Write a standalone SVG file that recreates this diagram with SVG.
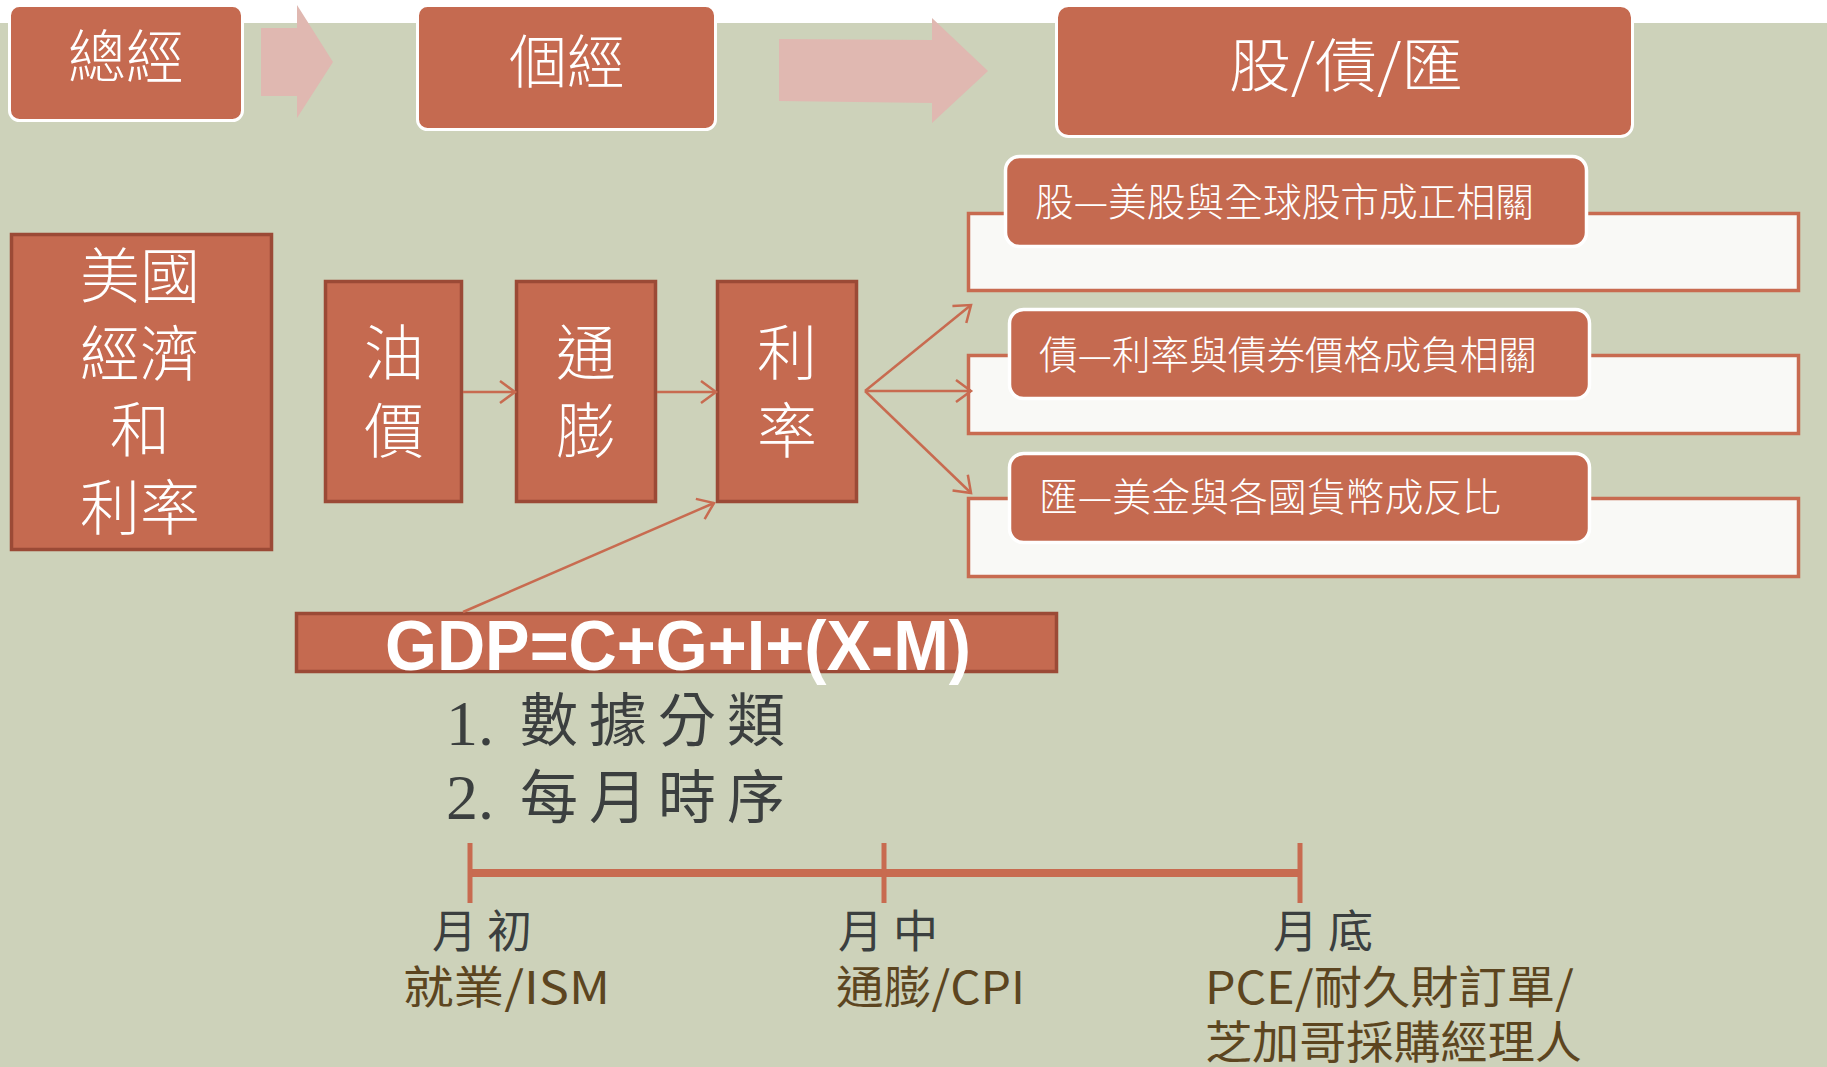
<svg xmlns="http://www.w3.org/2000/svg" width="1827" height="1067" viewBox="0 0 1827 1067">
<defs>
<style>
.bg{fill:#CDD2BA}
.top{fill:#C56A50;stroke:#FFFFFF;stroke-width:3}
.box{fill:#C56A50;stroke:#9B4A36;stroke-width:3.5}
.panel{fill:#F9F9F6;stroke:#C86B50;stroke-width:3.5}
.pill{fill:#C56A50;stroke:#FFFFFF;stroke-width:3.5}
.chev{fill:#E0B8B1}
.wt{fill:#FFFFFF;font-family:"Noto Sans CJK TC","Noto Sans CJK SC",sans-serif;font-weight:300}
.kai{fill:#3B3F3F;font-family:"Noto Sans CJK TC","Noto Sans CJK SC",serif}
.num{fill:#3B3F3F;font-family:"Liberation Serif",serif}
.br{fill:#5C4520;font-family:"Noto Sans CJK TC","Noto Sans CJK SC",sans-serif;font-size:45px}
.conn{stroke:#C86B50;stroke-width:2.5;fill:none;marker-end:url(#arr)}
.tl{stroke:#C86B50;fill:none}
</style>
<marker id="arr" viewBox="-17 -13 20 26" refX="0" refY="0" markerWidth="20" markerHeight="26" markerUnits="userSpaceOnUse" orient="auto">
<path d="M-15,-11 L0,0 L-15,11" fill="none" stroke="#C86B50" stroke-width="2.5"/>
</marker>
</defs>
<rect x="0" y="0" width="1827" height="1067" fill="#FFFFFF"/>
<rect class="bg" x="0" y="23" width="1827" height="1044"/>

<g id="chevrons">
<polygon class="chev" points="261,28 297,28 297,5 333,62 297,118 297,96 261,96"/>
<polygon class="chev" points="779,39 932,40 932,18 988,71 932,123 932,103 779,101"/>
</g>

<g id="node-macro">
<rect class="top" x="9.5" y="5.5" width="233" height="115" rx="10"/>
<text class="wt" x="126" y="78" font-size="58" text-anchor="middle">總經</text>
</g>
<g id="node-micro">
<rect class="top" x="417.5" y="5.5" width="298" height="124" rx="10"/>
<text class="wt" x="567" y="83" font-size="58" text-anchor="middle">個經</text>
</g>
<g id="node-assets">
<rect class="top" x="1056.5" y="5.5" width="576" height="131" rx="12"/>
<text class="wt" x="1229" y="87" font-size="58" textLength="234" lengthAdjust="spacingAndGlyphs">股/債/匯</text>
</g>

<g id="node-us">
<rect class="box" x="11.5" y="234.5" width="260" height="315"/>
<text class="wt" font-size="60" text-anchor="middle"><tspan x="140" y="298">美國</tspan><tspan x="140" y="376">經濟</tspan><tspan x="140" y="452">和</tspan><tspan x="140" y="530">利率</tspan></text>
</g>
<g id="node-oil">
<rect class="box" x="325.5" y="281.5" width="136" height="220"/>
<text class="wt" font-size="60" text-anchor="middle"><tspan x="394" y="375">油</tspan><tspan x="394" y="453">價</tspan></text>
</g>
<g id="node-inflation">
<rect class="box" x="516.5" y="281.5" width="139" height="220"/>
<text class="wt" font-size="60" text-anchor="middle"><tspan x="586" y="375">通</tspan><tspan x="586" y="453">膨</tspan></text>
</g>
<g id="node-rate">
<rect class="box" x="717.5" y="281.5" width="139" height="220"/>
<text class="wt" font-size="60" text-anchor="middle"><tspan x="787" y="375">利</tspan><tspan x="787" y="453">率</tspan></text>
</g>

<g id="node-stock">
<rect class="panel" x="968.5" y="213.5" width="830" height="77"/>
<rect class="pill" x="1005.5" y="156.5" width="581" height="90" rx="14"/>
<text class="wt" x="1035" y="216" font-size="38.5" textLength="499" lengthAdjust="spacingAndGlyphs">股—美股與全球股市成正相關</text>
</g>
<g id="node-bond">
<rect class="panel" x="968.5" y="355.5" width="830" height="78"/>
<rect class="pill" x="1009.5" y="309.5" width="580" height="89" rx="14"/>
<text class="wt" x="1039" y="369" font-size="38.5" textLength="498" lengthAdjust="spacingAndGlyphs">債—利率與債券價格成負相關</text>
</g>
<g id="node-fx">
<rect class="panel" x="968.5" y="498.5" width="830" height="78"/>
<rect class="pill" x="1009.5" y="453.5" width="580" height="89" rx="14"/>
<text class="wt" x="1039" y="511" font-size="38.5" textLength="462" lengthAdjust="spacingAndGlyphs">匯—美金與各國貨幣成反比</text>
</g>

<g id="node-gdp">
<rect class="box" x="296.5" y="613.5" width="760" height="58"/>
<text x="385" y="670" font-family="'Liberation Sans',Arial,sans-serif" font-weight="bold" font-size="70" fill="#FFFFFF" textLength="586" lengthAdjust="spacingAndGlyphs">GDP=C+G+I+(X-M)</text>
</g>

<g id="notes">
<text class="num" x="446" y="745" font-size="64">1.</text>
<text class="kai" x="520 589 658 727" y="741" font-size="58">數據分類</text>
<text class="num" x="446" y="819" font-size="64">2.</text>
<text class="kai" x="520 589 658 727" y="818" font-size="58">每月時序</text>
</g>

<g id="timeline">
<line class="tl" x1="470" y1="873" x2="1300" y2="873" stroke-width="8"/>
<line class="tl" x1="470" y1="843" x2="470" y2="903" stroke-width="5"/>
<line class="tl" x1="884" y1="843" x2="884" y2="903" stroke-width="5"/>
<line class="tl" x1="1300" y1="843" x2="1300" y2="903" stroke-width="5"/>
</g>
<g id="node-early">
<text class="kai" x="432 487" y="948" font-size="45">月初</text>
<text class="br" x="403" y="1004" textLength="207" lengthAdjust="spacingAndGlyphs">就業/ISM</text>
</g>
<g id="node-mid">
<text class="kai" x="838 893" y="948" font-size="45">月中</text>
<text class="br" x="836" y="1004" textLength="189" lengthAdjust="spacingAndGlyphs">通膨/CPI</text>
</g>
<g id="node-end">
<text class="kai" x="1273 1328" y="948" font-size="45">月底</text>
<text class="br" x="1205" y="1004" textLength="369" lengthAdjust="spacingAndGlyphs">PCE/耐久財訂單/</text>
<text class="br" x="1205" y="1059" textLength="377" lengthAdjust="spacingAndGlyphs">芝加哥採購經理人</text>
</g>

<g id="connectors">
<line class="conn" x1="463" y1="392" x2="515" y2="392"/>
<line class="conn" x1="657" y1="392" x2="716" y2="392"/>
<line class="conn" x1="865" y1="391" x2="971" y2="305"/>
<line class="conn" x1="865" y1="391" x2="971" y2="391"/>
<line class="conn" x1="865" y1="391" x2="971" y2="493"/>
<line class="conn" x1="463" y1="612" x2="714" y2="503"/>
</g>
</svg>
